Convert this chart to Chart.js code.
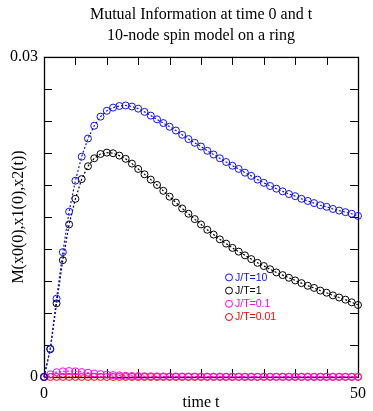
<!DOCTYPE html>
<html>
<head>
<meta charset="utf-8">
<script src="https://cdn.jsdelivr.net/npm/chart.js@4.4.0/dist/chart.umd.min.js"></script>
<style>
  html, body { margin: 0; padding: 0; background: #fff; }
  canvas { display: block; }
</style>
</head>
<body>
<canvas id="mi-chart" width="373" height="411"></canvas>
<script>
// time steps 0..50
const times = [0, 1, 2, 3, 4, 5, 6, 7, 8, 9, 10, 11, 12, 13, 14, 15, 16, 17, 18, 19, 20,
  21, 22, 23, 24, 25, 26, 27, 28, 29, 30, 31, 32, 33, 34, 35, 36, 37, 38, 39, 40,
  41, 42, 43, 44, 45, 46, 47, 48, 49, 50];

// J/T = 10
const miJT10 = [0, 0.00265, 0.00734, 0.0117, 0.0155, 0.0184, 0.02065, 0.02235, 0.02355, 0.0244, 0.02495,
  0.02525, 0.0254, 0.02545, 0.02535, 0.02515, 0.02485, 0.0245, 0.02415, 0.0238, 0.02345,
  0.0231, 0.0227, 0.0223, 0.02195, 0.0216, 0.0212, 0.02085, 0.0205, 0.02015, 0.0198,
  0.0195, 0.01915, 0.01885, 0.0185, 0.0182, 0.0179, 0.01765, 0.0174, 0.01715, 0.01695,
  0.0167, 0.0165, 0.0163, 0.0161, 0.01595, 0.01575, 0.0156, 0.01545, 0.0153, 0.0151];

// J/T = 1
const miJT1 = [0, 0.0026, 0.0069, 0.01095, 0.0143, 0.0167, 0.01855, 0.01975, 0.0205, 0.0209, 0.02103,
  0.02097, 0.02075, 0.02045, 0.0200, 0.0195, 0.0190, 0.0185, 0.0180, 0.01745, 0.0169,
  0.01635, 0.0158, 0.0153, 0.0148, 0.0143, 0.0138, 0.01335, 0.0129, 0.0125, 0.0121,
  0.01175, 0.0114, 0.01105, 0.0107, 0.0104, 0.0101, 0.0098, 0.00955, 0.0093, 0.00905,
  0.0088, 0.00855, 0.00835, 0.0081, 0.0079, 0.00765, 0.00745, 0.00725, 0.0070, 0.00675];

// J/T = 0.1
const miJT01 = [0, 0.00025, 0.00045, 0.00053, 0.00056, 0.00053, 0.00047, 0.0004, 0.00033, 0.00027, 0.00022,
  0.00018, 0.00015, 0.00012, 0.0001, 0.00009, 0.00008, 0.00007, 0.000065, 0.00006, 0.000055,
  0.00005, 0.00005, 0.000045, 0.000045, 0.00004, 0.00004, 0.00004, 0.00004, 0.000035, 0.000035,
  0.000035, 0.000035, 0.000035, 0.00003, 0.00003, 0.00003, 0.00003, 0.00003, 0.00003, 0.00003,
  0.00003, 0.00003, 0.00003, 0.00003, 0.00003, 0.00003, 0.00003, 0.00003, 0.00003, 0.00003];

// J/T = 0.01
const miJT001 = [0, 0.000004, 0.000005, 0.000006, 0.000006, 0.000005, 0.000005, 0.000004, 0.000004, 0.000003, 0.000003,
  0.000002, 0.000002, 0.000002, 0.000001, 0.000001, 0.000001, 0.000001, 0.000001, 0.000001, 0.000001,
  0.000001, 0.000001, 0.000001, 0.000001, 0.000001, 0.000001, 0.000001, 0.000001, 0.000001, 0.000001,
  0.000001, 0.000001, 0.000001, 0.000001, 0.000001, 0.000001, 0.000001, 0.000001, 0.000001, 0.000001,
  0.000001, 0.000001, 0.000001, 0.000001, 0.000001, 0.000001, 0.000001, 0.000001, 0.000001, 0.000001];

const seriesLabels = ['J/T=10', 'J/T=1', 'J/T=0.1', 'J/T=0.01'];
const seriesColors = ['#1010ff', '#000000', '#ff00ff', '#ff0000'];

const xTickLabels = {0: '0', 50: '50'};
const yTickLabels = {0: '0', 0.03: '0.03'};

const serif = "'Liberation Serif', 'Times New Roman', serif";

function toPoints(values) {
    return times.map((t, i) => ({x: t, y: values[i]}));
}

function makeDataset(i, values) {
    return {
        label: seriesLabels[i],
        data: toPoints(values),
        borderColor: seriesColors[i],
        borderWidth: 1.2,
        borderDash: [2, 2],
        pointStyle: 'circle',
        pointRadius: 3.5,
        pointBorderWidth: 1,
        pointBorderColor: seriesColors[i],
        pointBackgroundColor: 'rgba(0,0,0,0)',
        fill: false,
        tension: 0,
        clip: false
    };
}

// white background
const bgPlugin = {
    id: 'bg',
    beforeDraw(chart) {
        const ctx = chart.ctx;
        ctx.save();
        ctx.fillStyle = '#fff';
        ctx.fillRect(0, 0, chart.width, chart.height);
        ctx.restore();
    }
};

// frame with inward ticks on all four sides
const framePlugin = {
    id: 'frame',
    beforeDatasetsDraw(chart) {
        const {ctx, chartArea: a, scales} = chart;
        const tl = 8;
        ctx.save();
        ctx.strokeStyle = '#000';
        ctx.lineWidth = 1;
        ctx.beginPath();
        scales.x.ticks.forEach(t => {
            const px = Math.round(scales.x.getPixelForValue(t.value)) + 0.5;
            ctx.moveTo(px, a.bottom);
            ctx.lineTo(px, a.bottom - tl);
            ctx.moveTo(px, a.top);
            ctx.lineTo(px, a.top + tl);
        });
        scales.y.ticks.forEach(t => {
            const py = Math.round(scales.y.getPixelForValue(t.value)) + 0.5;
            ctx.moveTo(a.left, py);
            ctx.lineTo(a.left + tl, py);
            ctx.moveTo(a.right, py);
            ctx.lineTo(a.right - tl, py);
        });
        ctx.stroke();
        ctx.lineWidth = 1.3;
        ctx.strokeRect(a.left + 0.5, a.top + 0.5, a.right - a.left, a.bottom - a.top);
        ctx.restore();
    }
};

// legend inside the plot area
const legendPlugin = {
    id: 'insideLegend',
    afterDatasetsDraw(chart) {
        const {ctx, chartArea: a} = chart;
        const x0 = a.left + 185;
        const y0 = a.top + 220.5;
        const step = 13.2;
        ctx.save();
        ctx.font = "10.5px 'Liberation Sans', Arial, sans-serif";
        ctx.textBaseline = 'middle';
        ctx.textAlign = 'left';
        chart.data.datasets.forEach((ds, i) => {
            const y = y0 + i * step;
            ctx.strokeStyle = ds.borderColor;
            ctx.lineWidth = 1;
            ctx.beginPath();
            ctx.arc(x0, y, 3.5, 0, Math.PI * 2);
            ctx.stroke();
            ctx.fillStyle = ds.borderColor;
            ctx.fillText(ds.label, x0 + 6, y + 0.5);
        });
        ctx.restore();
    }
};

const config = {
    type: 'line',
    data: {
        datasets: [
            makeDataset(0, miJT10),
            makeDataset(1, miJT1),
            makeDataset(2, miJT01),
            makeDataset(3, miJT001)
        ]
    },
    options: {
        responsive: false,
        animation: false,
        layout: {
            padding: {top: 0, left: 0, right: 9, bottom: 0}
        },
        plugins: {
            legend: {display: false},
            tooltip: {enabled: false},
            title: {
                display: true,
                fullSize: false,
                text: ['Mutual Information at time 0 and t', '10-node spin model on a ring'],
                color: '#000',
                font: {family: serif, size: 16, weight: 'normal', lineHeight: 1.31},
                padding: {top: 4.8, bottom: 10.2}
            }
        },
        scales: {
            x: {
                type: 'linear',
                min: 0,
                max: 50,
                grid: {display: false, drawTicks: false},
                border: {display: false},
                ticks: {
                    stepSize: 5,
                    autoSkip: false,
                    maxRotation: 0,
                    padding: 7,
                    color: '#000',
                    font: {family: serif, size: 16},
                    callback: v => xTickLabels[v] !== undefined ? xTickLabels[v] : ''
                },
                title: {
                    display: true,
                    text: 'time t',
                    color: '#000',
                    font: {family: serif, size: 16, lineHeight: 1},
                    padding: {top: 0, bottom: 0}
                },
                afterFit: s => { s.height = 34; }
            },
            y: {
                type: 'linear',
                min: 0,
                max: 0.03,
                grid: {display: false, drawTicks: false},
                border: {display: false},
                ticks: {
                    stepSize: 0.003,
                    autoSkip: false,
                    padding: 6,
                    color: '#000',
                    font: {family: serif, size: 16},
                    callback: v => {
                        const key = Math.round(v * 1000) / 1000;
                        return yTickLabels[key] !== undefined ? yTickLabels[key] : '';
                    }
                },
                title: {
                    display: true,
                    text: 'M(x0(0),x1(0),x2(t))',
                    color: '#000',
                    font: {family: serif, size: 16, lineHeight: 1.2},
                    padding: {top: 9, bottom: 0}
                },
                afterFit: s => { s.width = 44; }
            }
        }
    },
    plugins: [bgPlugin, framePlugin, legendPlugin]
};

const ctxMi = document.getElementById('mi-chart');
new Chart(ctxMi, config);
</script>
</body>
</html>
